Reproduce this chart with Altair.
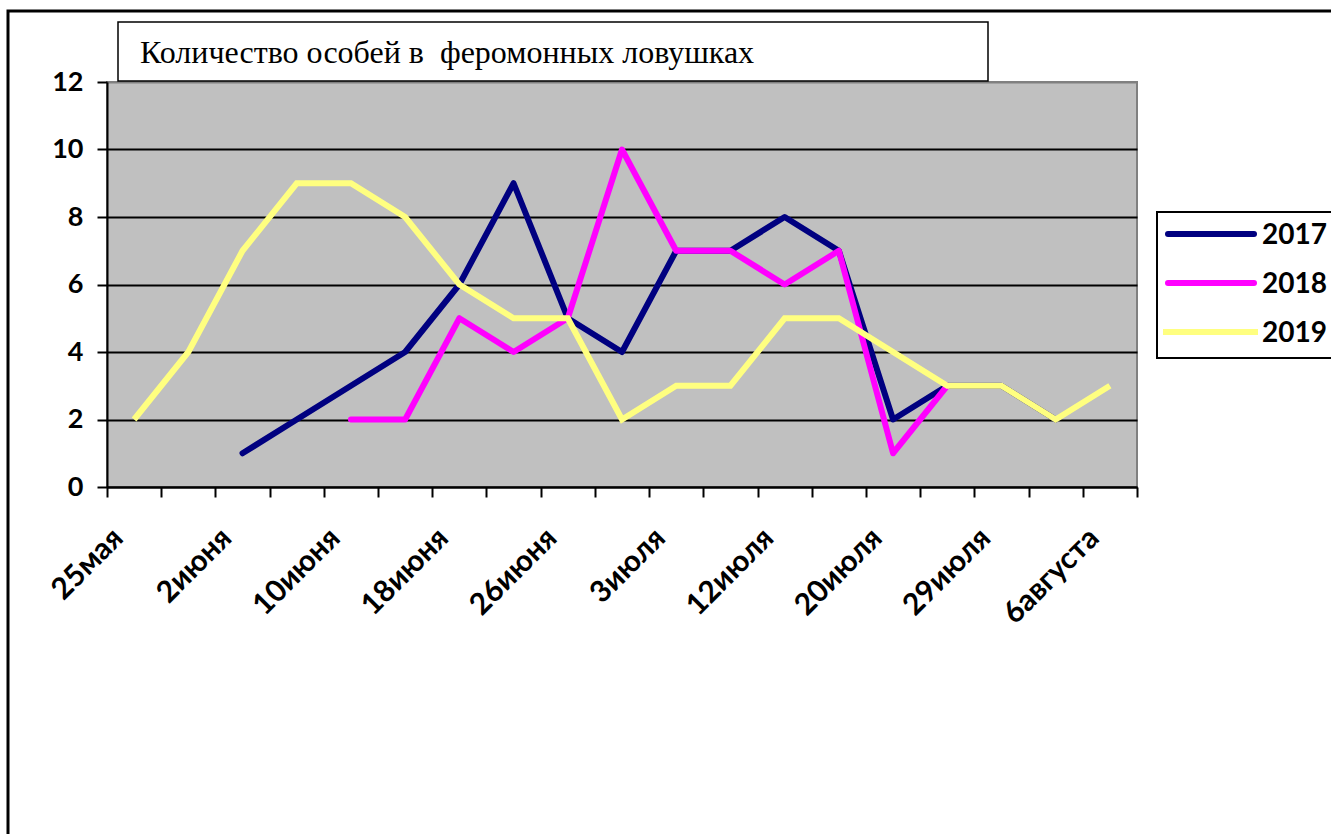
import json

import altair as alt
import pandas as pd

# Sampling dates along the x axis: 19 of them, every second one is labelled
N_DATES = 19
TICK_LABELS = ["25мая", "2июня", "10июня", "18июня", "26июня",
               "3июля", "12июля", "20июля", "29июля", "6августа"]

# Number of individuals per trap check (None = no check that year)
SERIES = ["2017", "2018", "2019"]
Y2017 = [None, None, 1, 2, 3, 4, 6, 9, 5, 4, 7, 7, 8, 7, 2, 3, 3, 2, None]
Y2018 = [None, None, None, None, 2, 2, 5, 4, 5, 10, 7, 7, 6, 7, 1, 3, None, None, None]
Y2019 = [2, 4, 7, 9, 9, 8, 6, 5, 5, 2, 3, 3, 5, 5, 4, 3, 3, 2, 3]
COLORS = {"2017": "#000080", "2018": "#FF00FF", "2019": "#FFFF80"}
CAPS = {"2017": "round", "2018": "round", "2019": "butt"}
JOINS = {"2017": "round", "2018": "round", "2019": "miter"}

# the double space is kept visible with a no-break space
TITLE = "Количество особей в \u00a0феромонных ловушках"

SANS = "Lato"
SERIF = "Liberation Serif"

W, H = 1030, 405
PAD = {"left": 107, "top": 82, "right": 194, "bottom": 347}

rows = []
for name, values in zip(SERIES, [Y2017, Y2018, Y2019]):
    for i, v in enumerate(values):
        if v is not None:
            rows.append({"series": name, "date": i, "count": v})
df = pd.DataFrame(rows)
legend_df = pd.DataFrame({"series": SERIES})
one = pd.DataFrame({"k": [0]})

label_expr = (
    f"datum.value % 2 == 0 && datum.value < {N_DATES} ? "
    f"{json.dumps(TICK_LABELS, ensure_ascii=False)}[datum.value / 2] : ''"
)

x_enc = alt.X(
    "pos:Q",
    scale=alt.Scale(domain=[0, N_DATES], nice=False, zero=False),
    axis=alt.Axis(
        values=list(range(N_DATES + 1)),
        labelExpr=label_expr,
        labelAngle=-45,
        labelAlign="right",
        labelBaseline="middle",
        labelPadding=36,
        labelOffset=11,
        labelFlush=False,
        labelOverlap=False,
        labelFont=SANS,
        labelFontSize=30,
        labelFontWeight="bold",
        labelColor="black",
        tickSize=10,
        tickWidth=2,
        tickColor="black",
        domainColor="black",
        domainWidth=2,
        grid=False,
        title=None,
    ),
)

y_enc = alt.Y(
    "count:Q",
    scale=alt.Scale(domain=[0, 12], nice=False),
    axis=alt.Axis(
        orient="left",
        values=[0, 2, 4, 6, 8, 10, 12],
        grid=True,
        gridColor={"condition": {"test": "datum.value == 12", "value": "#808080"},
                   "value": "black"},
        gridWidth=2,
        tickSize=10,
        tickWidth=2,
        tickColor="black",
        domainColor="black",
        domainWidth=2,
        labelPadding=14,
        labelFont=SANS,
        labelFontSize=27,
        labelFontWeight="bold",
        labelColor="black",
        title=None,
    ),
)

# one line layer per year, later years on top
line_layers = []
for name in SERIES:
    line_layers.append(
        alt.Chart(df)
        .transform_filter(alt.datum.series == name)
        .transform_calculate(pos="datum.date + 0.5")
        .mark_line(color=COLORS[name], strokeWidth=6,
                   strokeCap=CAPS[name], strokeJoin=JOINS[name])
        .encode(x=x_enc, y=y_enc, order="date:Q")
    )
lines = alt.layer(*line_layers)

# legend drawn as a small boxed key on the right
legend_y = alt.Scale(type="point", domain=SERIES, range=[152, 250], padding=0)
legend_parts = []
for name in SERIES:
    x0, x1 = (1061, 1147) if CAPS[name] == "round" else (1056, 1151)
    legend_parts.append(
        alt.Chart(legend_df)
        .transform_filter(alt.datum.series == name)
        .mark_rule(color=COLORS[name], strokeWidth=6, strokeCap=CAPS[name])
        .encode(x=alt.value(x0), x2=alt.value(x1),
                y=alt.Y("series:N", scale=legend_y, axis=None))
    )
legend_parts.append(
    alt.Chart(legend_df)
    .mark_text(align="left", baseline="middle", font=SANS, fontSize=28,
               fontWeight="bold", color="black", dy=2)
    .encode(x=alt.value(1155), y=alt.Y("series:N", scale=legend_y, axis=None),
            text="series:N")
)
legend = alt.layer(*legend_parts)

legend_box = alt.Chart(one).mark_rect(fill="white", stroke="black", strokeWidth=2).encode(
    x=alt.value(1050), x2=alt.value(1240), y=alt.value(130), y2=alt.value(276)
)

frame = alt.Chart(one).mark_rect(fill="white", fillOpacity=0, stroke="black", strokeWidth=3).encode(
    x=alt.value(8 - PAD["left"]), x2=alt.value(1345 - PAD["left"]),
    y=alt.value(11 - PAD["top"]), y2=alt.value(850 - PAD["top"])
)

title_box = alt.Chart(one).mark_rect(fill="white", stroke="black", strokeWidth=1.5).encode(
    x=alt.value(11), x2=alt.value(881), y=alt.value(-60), y2=alt.value(-1)
)
title_text = alt.Chart(one).mark_text(
    align="left", baseline="alphabetic", font=SERIF, fontSize=32, color="black"
).encode(x=alt.value(33), y=alt.value(-19), text=alt.value(TITLE))

chart = (
    alt.layer(frame, title_box, title_text, lines, legend_box, legend)
    .resolve_scale(y="independent")
    .properties(
        width=W,
        height=H,
        padding=PAD,
        autosize=alt.AutoSizeParams(type="none"),
        background="white",
    )
    .configure_view(fill="#C0C0C0", stroke="#808080", strokeWidth=2)
)

chart.save("out.html", embed_options={"renderer": "svg", "actions": False})
